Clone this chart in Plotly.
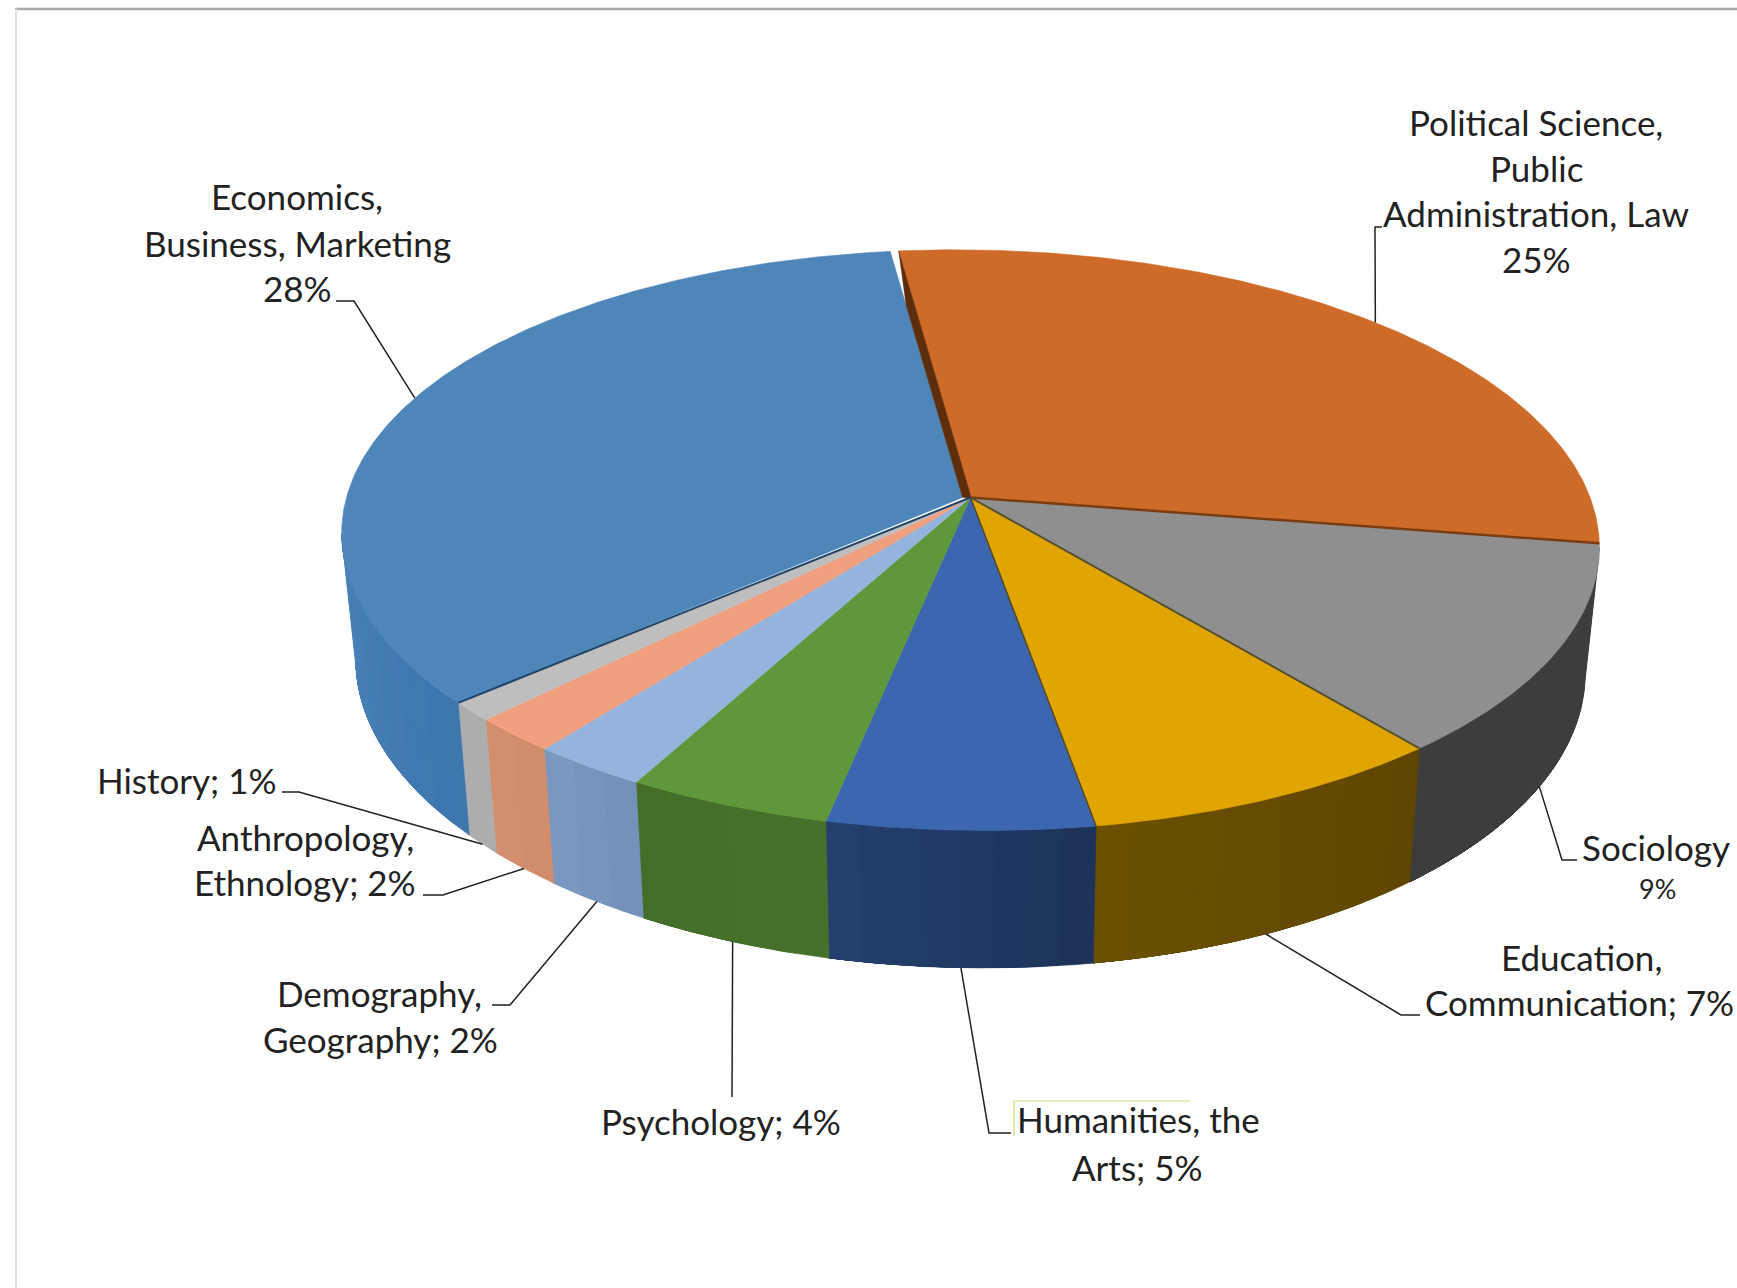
import math
import plotly.graph_objects as go

# ---- data ----
categories = ["Political Science, Public Administration, Law", "Sociology", "Education, Communication",
              "Humanities, the Arts", "Psychology", "Demography, Geography",
              "Anthropology, Ethnology", "History", "Economics, Business, Marketing"]
# share of the full circle each drawn slice takes (%), read from the slice edges;
# the printed labels below are rounded and do not add up to 100
values = [29.25, 11.8, 8.3, 5.95, 4.56, 2.59, 1.94, 1.04, 34.57]
printed_percent = [25, 9, 7, 5, 4, 2, 2, 1, 28]

top_colors = ["#CE6B28", "#8F8F8F", "#E0A500", "#3B66B0", "#5F983A", "#95B4DD", "#F0A07E", "#BEBEBE", "#4F86BA"]
wall_left = ["#8A4A1C", "#3D3D3D", "#6B5000", "#24406F", "#446E28", "#7A98C0", "#D38E6E", "#B4B4B4", "#4A82B8"]
wall_right = ["#8A4A1C", "#3D3D3D", "#5D4600", "#1D3258", "#46712A", "#7390B8", "#D08C6C", "#A6A6A6", "#3D76AE"]

# ---- projection of the pie (a tilted disc seen in perspective) ----
W, H = 1737, 1288
CX, CY = 970.5, 497.5
A, B, K = 622.0, 284.0, 0.147
SHEAR = 0.011
SHRINK, DEPTH = 0.978, 123.5
START = -7.6      # clockwise degrees from north, first slice's leading edge
GAP = 0.9
BLUE_APEX_SHIFT = 8.0


def project(theta, r=1.0, bottom=False):
    t = math.radians(theta)
    x, y = r * math.sin(t), -r * math.cos(t)
    d = 1 - K * y
    px, py = A * x / d, B * y / d
    if bottom:
        px *= SHRINK
        py = py * SHRINK + DEPTH / d
    return CX + px, CY + py + SHEAR * px


def arc(a0, a1, step=0.5, **kw):
    n = max(2, int(abs(a1 - a0) / step) + 1)
    return [project(a0 + (a1 - a0) * i / (n - 1), **kw) for i in range(n)]


def mix(c0, c1, f):
    a = [int(c0[i:i + 2], 16) for i in (1, 3, 5)]
    b = [int(c1[i:i + 2], 16) for i in (1, 3, 5)]
    return "#%02X%02X%02X" % tuple(round(p + (q - p) * f) for p, q in zip(a, b))


def lerp(p, q, t):
    return p[0] + (q[0] - p[0]) * t, p[1] + (q[1] - p[1]) * t


fig = go.Figure()


def poly(points, color, line=0.6):
    xs, ys = zip(*points)
    if line:
        fig.add_trace(go.Scatter(x=list(xs) + [xs[0]], y=list(ys) + [ys[0]], mode="lines", fill="toself",
                                 fillcolor=color, line=dict(color=color, width=line),
                                 hoverinfo="skip", showlegend=False))
    else:
        fig.add_trace(go.Scatter(x=list(xs) + [xs[0]], y=list(ys) + [ys[0]], mode="none", fill="toself",
                                 fillcolor=color, hoverinfo="skip", showlegend=False))


def path(points, color, width):
    xs, ys = zip(*points)
    fig.add_trace(go.Scatter(x=list(xs), y=list(ys), mode="lines", line=dict(color=color, width=width),
                             hoverinfo="skip", showlegend=False))


total = sum(values)
edges = [START]
for v in values:
    edges.append(edges[-1] + 360 * v / total)
mids = [(edges[i] + edges[i + 1]) / 2 for i in range(len(values))]

# silhouette limits of the visible wall
VIS0 = 180 - math.degrees(math.acos(K))
VIS1 = 360 - VIS0

# walls, painted in overlapping strips for the soft gradient
for i in range(len(values)):
    a0, a1 = max(edges[i], VIS0), min(edges[i + 1], VIS1)
    if a1 <= a0:
        continue
    strips = max(1, int((a1 - a0) / 2.5))
    for s in range(strips):
        u0 = a0 + (a1 - a0) * s / strips
        u1 = a1
        c = mix(wall_right[i], wall_left[i], (s + 0.5) / strips)
        poly(arc(u0, u1) + arc(u1, u0, bottom=True), c, line=0.5 if s == 0 else 0)

# top faces
last = len(values) - 1
for i in range(len(values)):
    a0, a1 = edges[i], edges[i + 1]
    if i == last:
        a1 -= GAP
        poly([(CX - BLUE_APEX_SHIFT, CY)] + arc(a0, a1) + [(CX - BLUE_APEX_SHIFT, CY)], top_colors[i])
    else:
        poly([(CX, CY)] + arc(a0, a1), top_colors[i])

# dark cut face of the first slice and thin dark edges along some radii
blue_rim = project(edges[0] - GAP)
blue_apex = (CX - BLUE_APEX_SHIFT, CY)
poly([project(edges[0]), lerp(blue_rim, blue_apex, 0.22), blue_apex, (CX + 1, CY + 1)], "#5E2D0C", 0.4)
for idx, col, wd in [(1, "#7A3D12", 2.5), (2, "#55502F", 2), (3, "#5B4A20", 1.5), (8, "#1F4468", 2)]:
    path([(CX, CY), project(edges[idx])], col, wd)

# leader lines: pie rim near the slice middle to the label elbow
LINE = "#222222"
leaders = {
    8: (False, 0.0, [(354, 301), (336, 301)]),
    0: (False, 0.8, [(1375, 227), (1382, 227)]),
    1: (True, 1.0, [(1562, 860), (1577, 860)]),
    2: (True, 0.0, [(1401, 1015), (1420, 1015)]),
    3: (True, 0.0, [(989, 1133), (1011, 1133)]),
    4: (True, 0.0, [(732, 1097)]),
    5: (True, 0.0, [(510, 1005), (492, 1005)]),
    6: (True, 0.0, [(443, 895), (423, 895)]),
    7: (True, 0.0, [(299, 792), (282, 792)]),
}
for i, (bot, nudge, pts) in leaders.items():
    path([project(mids[i] + nudge, bottom=bot)] + pts, LINE, 1.5)

# frame remains and text-box selection mark
path([(15, 9), (W, 9)], "#A8A8A8", 2.5)
path([(16, 9), (16, H)], "#E2E2E2", 2)
path([(1014, 1136), (1014, 1101), (1190, 1101)], "#C8D97A", 1.2)

FONT = "Lato, Carlito, Calibri, sans-serif"
S = 35
labels = [
    ("Economics,", 297, 196, S), ("Business, Marketing", 297, 243, S), (f"{printed_percent[8]}%", 297, 288, S),
    ("Political Science,", 1536, 122, S), ("Public", 1536, 168, S),
    ("Administration, Law", 1536, 213, S), (f"{printed_percent[0]}%", 1536, 259, S),
    ("Sociology", 1656, 847, S), (f"{printed_percent[1]}%", 1657, 888, 27),
    ("Education,", 1581, 957, S), (f"Communication; {printed_percent[2]}%", 1579, 1002, S),
    ("Humanities, the", 1138, 1119, S), (f"Arts; {printed_percent[3]}%", 1137, 1167, S),
    (f"Psychology; {printed_percent[4]}%", 721, 1121, S),
    ("Demography,", 379, 993, S), (f"Geography; {printed_percent[5]}%", 380, 1039, S),
    ("Anthropology,", 305, 837, S), (f"Ethnology; {printed_percent[6]}%", 305, 882, S),
    (f"History; {printed_percent[7]}%", 187, 780, S),
]
for text, x, y, size in labels:
    fig.add_annotation(x=x, y=y, text=text, showarrow=False, xanchor="center", yanchor="middle",
                       font=dict(family=FONT, size=size, color="#222222"))

fig.update_layout(
    width=W, height=H, margin=dict(l=0, r=0, t=0, b=0),
    paper_bgcolor="white", plot_bgcolor="white", showlegend=False,
    xaxis=dict(range=[0, W], visible=False, fixedrange=True),
    yaxis=dict(range=[H, 0], visible=False, fixedrange=True),
)
fig.write_html("out.html", post_script="document.body.style.margin='0';document.body.style.overflow='hidden';",
               config={"displayModeBar": False})
